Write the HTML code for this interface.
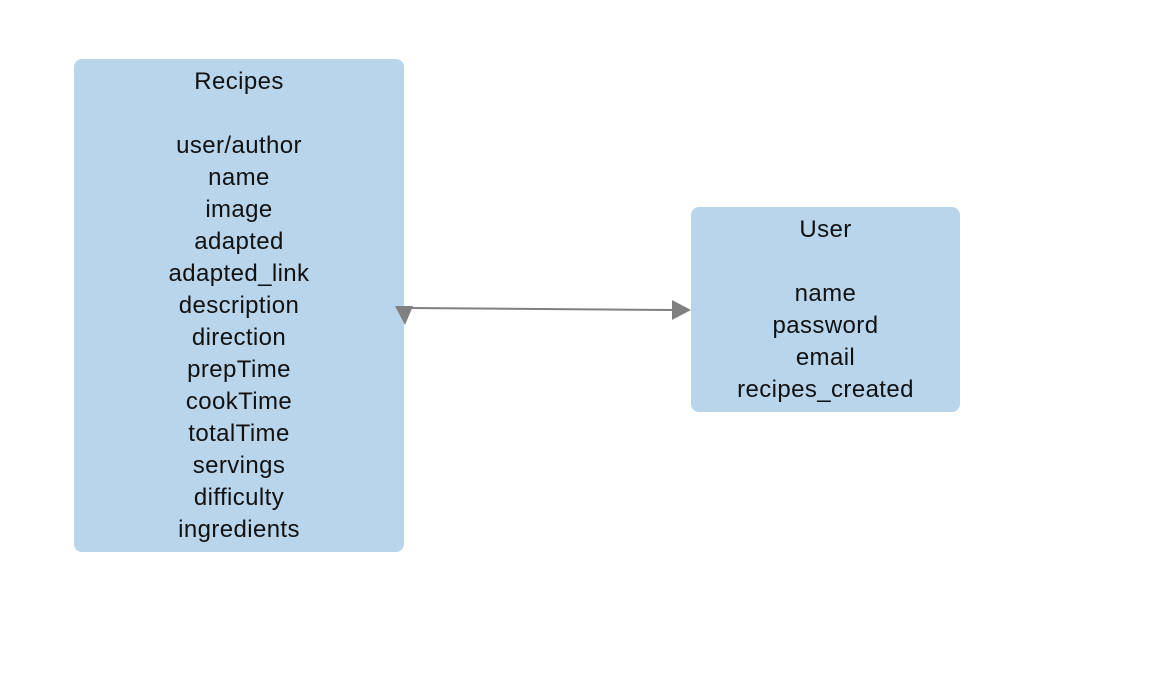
<!DOCTYPE html>
<html><head><style>
body{margin:0;width:1176px;height:674px;background:#fff;position:relative;overflow:hidden;font-family:"Liberation Sans",sans-serif;color:#111}
.box{position:absolute;background:#b8d5eb;border-radius:8px}
.t{position:absolute;left:0;right:0;text-align:center;font-size:24px;letter-spacing:0.4px;line-height:32px}
</style></head><body>
<div class="box" style="left:74px;top:59px;width:330px;height:493px">
<div class="t" style="top:7px">Recipes</div>
<div class="t" style="top:71px">user/author<br>name<br>image<br>adapted<br>adapted_link<br>description<br>direction<br>prepTime<br>cookTime<br>totalTime<br>servings<br>difficulty<br>ingredients</div>
</div>
<div class="box" style="left:691px;top:207px;width:269px;height:205px">
<div class="t" style="top:7px">User</div>
<div class="t" style="top:71px">name<br>password<br>email<br>recipes_created</div>
</div>
<svg width="1176" height="674" style="position:absolute;left:0;top:0">
<line x1="410" y1="308" x2="674" y2="310" stroke="#808080" stroke-width="2"/>
<polygon points="395,306 413,306 405,325" fill="#808080"/>
<polygon points="672,300 672,320 691,310" fill="#808080"/>
</svg>
</body></html>
